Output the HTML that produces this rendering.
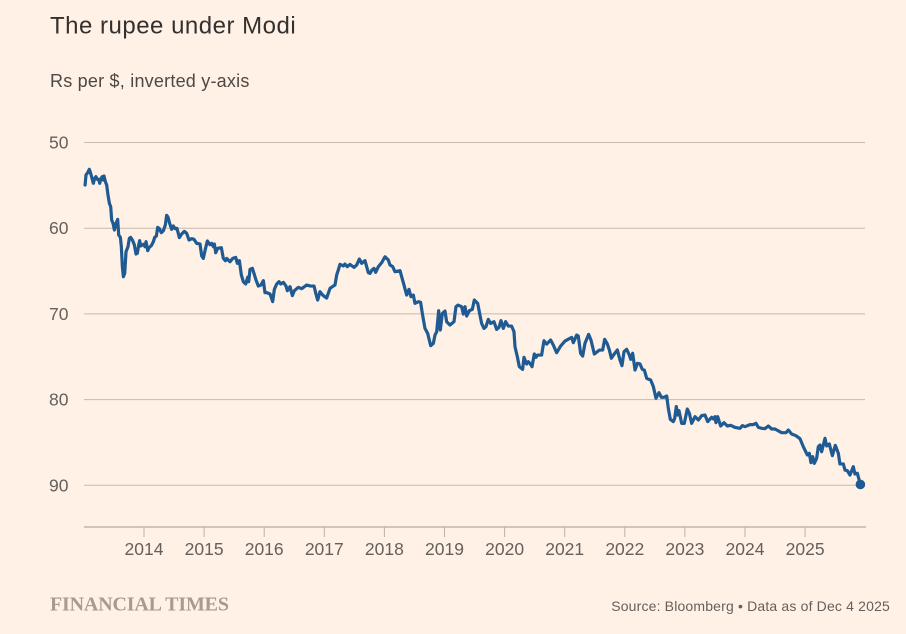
<!DOCTYPE html>
<html lang="en">
<head>
<meta charset="utf-8">
<title>The rupee under Modi</title>
<style>
html,body{margin:0;padding:0;background:#fff1e5;}
svg{display:block;font-family:"Liberation Sans",sans-serif;}
</style>
</head>
<body>
<svg id="chart" xmlns="http://www.w3.org/2000/svg" width="906" height="634" viewBox="0 0 906 634">
<rect x="0" y="0" width="906" height="634" fill="#fff1e5"/>
<text x="50" y="33.5" font-size="24" letter-spacing="0.5" fill="#33302e">The rupee under Modi</text>
<text x="50" y="87" font-size="18" letter-spacing="0.22" fill="#4d4845">Rs per $, inverted y-axis</text>
<g id="grid"></g>
<g id="yLabels"></g>
<g id="xAxis"></g>
<g id="series"></g>
<text x="50" y="610.5" font-family="'Liberation Serif',serif" font-weight="700" font-size="20" letter-spacing="-0.17" fill="#a69b91">FINANCIAL TIMES</text>
<text x="890" y="611" text-anchor="end" font-size="14" letter-spacing="0.17" fill="#66605c">Source: Bloomberg • Data as of Dec 4 2025</text>
</svg>
<script>
var yTicks = [50, 60, 70, 80, 90];
var xTicks = [2014, 2015, 2016, 2017, 2018, 2019, 2020, 2021, 2022, 2023, 2024, 2025];
var dates = [
2013.02,2013.035,2013.063,2013.09,2013.113,2013.135,2013.157,2013.18,2013.20,2013.224,2013.246,2013.263,2013.285,2013.307,2013.324,2013.335,2013.357,2013.379,2013.401,2013.424,2013.446,2013.462,2013.485,2013.507,2013.535,2013.562,2013.579,2013.607,2013.623,2013.64,2013.657,2013.679,2013.701,2013.734,2013.756,2013.778,2013.812,2013.84,2013.867,2013.889,2013.912,2013.928,2013.945,2013.967,2013.989,
2014.017,2014.034,2014.061,2014.089,2014.122,2014.156,2014.178,2014.206,2014.228,2014.255,2014.289,2014.322,2014.355,2014.377,2014.40,2014.427,2014.46,2014.488,2014.516,2014.549,2014.588,2014.627,2014.671,2014.71,2014.749,2014.793,2014.832,2014.877,2014.932,2014.96,2014.987,
2015.015,2015.054,2015.098,2015.126,2015.154,2015.171,2015.193,2015.226,2015.287,2015.32,2015.354,2015.376,2015.431,2015.476,2015.526,2015.553,2015.587,2015.62,2015.653,2015.692,2015.725,2015.742,2015.764,2015.803,2015.83,2015.864,2015.902,2015.947,2015.986,
2016.013,2016.041,2016.097,2016.141,2016.169,2016.208,2016.247,2016.274,2016.319,2016.363,2016.385,2016.43,2016.468,2016.502,2016.568,2016.624,2016.707,2016.773,2016.829,2016.862,2016.89,2016.928,2016.973,
2017.039,2017.095,2017.15,2017.178,2017.206,2017.233,2017.261,2017.317,2017.344,2017.383,2017.427,2017.494,2017.538,2017.583,2017.622,2017.677,2017.733,2017.76,2017.794,2017.827,2017.855,2017.899,2017.954,
2018.01,2018.065,2018.093,2018.138,2018.176,2018.26,2018.287,2018.326,2018.37,2018.409,2018.442,2018.481,2018.509,2018.564,2018.603,2018.631,2018.675,2018.72,2018.747,2018.77,2018.814,2018.842,2018.87,2018.903,2018.93,2018.964,
2019.008,2019.036,2019.091,2019.158,2019.191,2019.224,2019.285,2019.313,2019.341,2019.369,2019.413,2019.463,2019.496,2019.552,2019.59,2019.618,2019.657,2019.69,2019.729,2019.768,2019.823,2019.868,2019.907,2019.94,2019.979,
2020.017,2020.062,2020.117,2020.156,2020.173,2020.212,2020.245,2020.30,2020.323,2020.367,2020.395,2020.422,2020.456,2020.494,2020.522,2020.544,2020.616,2020.655,2020.70,2020.766,2020.81,2020.866,2020.932,
2021.005,2021.116,2021.143,2021.199,2021.226,2021.265,2021.299,2021.337,2021.398,2021.437,2021.493,2021.576,2021.632,2021.665,2021.709,2021.743,2021.776,2021.82,2021.876,2021.92,2021.953,2021.987,
2022.031,2022.075,2022.098,2022.131,2022.17,2022.209,2022.253,2022.292,2022.325,2022.364,2022.43,2022.475,2022.519,2022.569,2022.608,2022.652,2022.697,2022.724,2022.757,2022.807,2022.83,2022.857,2022.88,2022.902,2022.946,2022.99,
2023.04,2023.074,2023.113,2023.168,2023.224,2023.279,2023.334,2023.379,2023.445,2023.473,2023.501,2023.517,2023.545,2023.595,2023.65,2023.706,2023.761,2023.833,2023.917,2023.956,
2024.0,2024.083,2024.139,2024.183,2024.222,2024.277,2024.333,2024.388,2024.444,2024.499,2024.61,2024.682,2024.721,2024.776,2024.848,2024.915,2024.97,
2025.037,2025.07,2025.098,2025.126,2025.153,2025.192,2025.22,2025.248,2025.275,2025.331,2025.359,2025.403,2025.453,2025.503,2025.553,2025.58,2025.636,2025.664,2025.702,2025.747,2025.802,2025.83,2025.869,2025.92
];
var rates = [
54.96,53.79,53.52,53.13,53.6,54.18,54.76,54.18,53.99,54.30,54.30,54.76,54.18,53.99,54.38,53.91,54.57,54.96,56.13,57.10,57.49,59.04,59.43,60.21,59.43,58.97,60.79,61.07,62.16,64.49,65.66,65.27,62.74,62.16,61.18,61.07,61.45,61.96,63.01,62.93,61.96,61.45,62.08,61.96,61.88,
62.16,61.57,62.62,62.23,62.04,61.57,61.07,60.91,59.90,60.05,60.52,60.29,59.63,58.50,58.73,59.43,60.13,59.74,60.05,60.02,61.10,60.68,60.37,60.60,61.38,61.22,61.30,61.77,61.84,63.24,63.52,
62.62,61.49,61.92,61.77,62.16,61.84,62.86,62.35,62.27,63.52,63.79,63.52,63.91,63.52,63.40,64.10,63.79,65.46,66.24,66.51,65.73,66.24,64.80,64.68,65.27,66.05,66.75,66.63,66.12,
67.52,67.52,67.68,68.57,67.13,66.51,66.24,66.51,66.32,66.75,67.29,66.82,67.87,67.29,66.90,67.06,66.63,66.75,66.75,67.70,68.38,67.41,67.80,
68.15,67.02,66.75,66.63,65.46,64.88,64.22,64.41,64.18,64.49,64.22,64.57,64.30,63.60,64.10,63.79,65.19,65.27,64.88,64.69,65.15,64.49,64.03,
63.33,63.71,64.30,64.49,65.08,64.96,65.66,66.63,67.80,67.14,67.99,67.80,68.77,68.58,68.65,69.94,71.69,72.27,73.05,73.71,73.44,72.47,72.08,69.63,71.88,69.94,
69.67,70.91,71.30,70.91,69.16,68.97,69.16,70.02,69.16,70.25,69.63,69.47,68.38,68.77,70.13,71.11,71.69,71.49,70.64,71.11,70.91,71.81,71.57,70.79,71.69,
70.91,71.42,71.42,72.08,73.83,75.0,76.16,76.47,75.07,75.85,75.58,75.77,76.16,74.68,75.07,74.80,74.80,73.13,73.52,73.05,73.63,74.53,73.75,
73.17,72.74,73.36,72.47,72.58,74.61,74.92,73.44,72.39,73.05,74.68,74.22,74.21,72.97,73.51,74.21,75.18,74.72,74.21,75.38,76.04,74.41,
74.13,74.79,75.30,74.60,76.55,75.77,75.84,76.47,76.55,77.52,77.71,78.49,79.85,79.19,79.73,79.73,79.58,81.02,82.30,82.57,82.19,80.82,81.80,81.29,82.77,82.77,
81.10,81.60,82.77,81.99,82.38,81.87,81.80,82.57,82.07,82.26,81.99,82.69,81.99,83.08,82.69,83.08,83.0,83.24,83.35,83.04,
83.16,82.92,82.92,82.77,83.24,83.35,83.39,83.08,83.43,83.43,83.86,83.86,83.55,84.01,84.21,84.56,85.49,
86.46,86.27,87.36,86.66,87.44,86.85,85.49,85.30,86.08,84.52,85.41,85.18,86.54,85.34,86.27,87.51,87.51,88.22,88.29,88.80,87.83,88.68,88.60,89.9
];

var NS = 'http://www.w3.org/2000/svg';
function xScale(t) { return 144 + (t - 2014) * 60.1; }
function yScale(v) { return 142.5 + (v - 50) * 8.57; }
function make(tag, attrs, parent) {
  var el = document.createElementNS(NS, tag);
  for (var k in attrs) { el.setAttribute(k, attrs[k]); }
  parent.appendChild(el);
  return el;
}
var gridG = document.getElementById('grid');
var yLabelG = document.getElementById('yLabels');
var xAxisG = document.getElementById('xAxis');
var seriesG = document.getElementById('series');

yTicks.forEach(function (v) {
  var gl = make('line', {x1: 84, x2: 865, y1: yScale(v), y2: yScale(v), stroke: '#c9b9ab', 'stroke-width': 1}, gridG);
  
  
  var lab = make('text', {x: 49, y: yScale(v) + 6, 'font-size': 17.5, fill: '#66605c'}, yLabelG);
  lab.textContent = String(v);
  
  
});

var baseY = 527;
var axisLine = make('line', {x1: 84, x2: 866, y1: baseY, y2: baseY, stroke: '#a3978c', 'stroke-width': 1}, xAxisG);


xTicks.forEach(function (t) {
  var tick = make('line', {x1: xScale(t), x2: xScale(t), y1: baseY, y2: baseY + 10, stroke: '#bdb1a6', 'stroke-width': 1}, xAxisG);
  
  
  var lab = make('text', {x: xScale(t), y: 555, 'font-size': 17.5, 'text-anchor': 'middle', fill: '#66605c'}, xAxisG);
  lab.textContent = String(t);
  
  
});

var d = dates.map(function (t, i) {
  return (i ? 'L' : 'M') + xScale(t).toFixed(2) + ' ' + yScale(rates[i]).toFixed(2);
}).join('');
var path = make('path', {d: d, fill: 'none', stroke: '#1f5a93', 'stroke-width': 3.2, 'stroke-linejoin': 'round', 'stroke-linecap': 'round'}, seriesG);


var last = dates.length - 1;
var dot = make('circle', {cx: xScale(dates[last]), cy: yScale(rates[last]), r: 4.8, fill: '#1f5a93'}, seriesG);


</script>
</body>
</html>
